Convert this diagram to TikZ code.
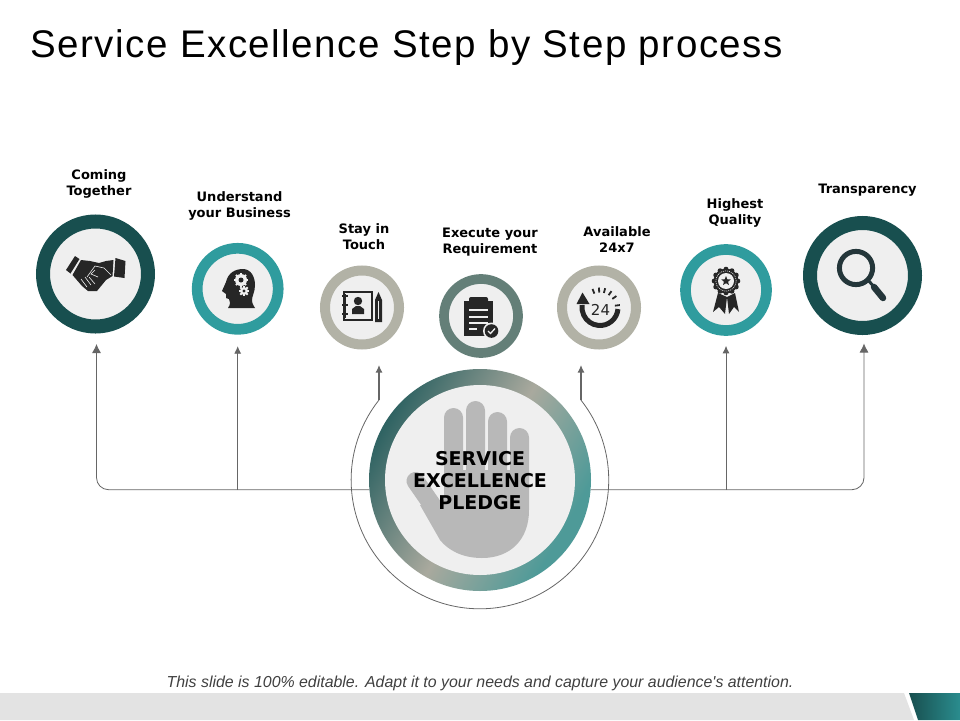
\documentclass[tikz,border=0pt]{standalone}
\usepackage{fontspec}
\setmainfont{DejaVu Sans}
\newfontfamily\slidefont{Liberation Sans}
\newfontfamily\headfont[LetterSpace=4]{Liberation Sans}
\usetikzlibrary{arrows.meta,shapes.geometric,positioning}
\definecolor{ringdark}{HTML}{184F4F}
\definecolor{ringteal}{HTML}{2F9C9E}
\definecolor{ringstone}{HTML}{B2B2A6}
\definecolor{ringsage}{HTML}{647F78}
\definecolor{fadeteal}{HTML}{4E9A98}
\definecolor{fadedark}{HTML}{2A6060}
\definecolor{iconbg}{HTML}{EFEFEF}
\definecolor{iconink}{HTML}{262626}
\definecolor{lensink}{HTML}{24363A}
\definecolor{handgrey}{HTML}{B8B8B8}
\definecolor{linegrey}{HTML}{666666}
\definecolor{bandgrey}{HTML}{E3E3E3}
\pgfdeclareverticalshading{pledgefade}{100bp}{color(0bp)=(fadeteal); color(28bp)=(fadeteal); color(50bp)=(ringstone!95!black); color(76bp)=(fadedark); color(100bp)=(fadedark)}
\tikzstyle{ringlarge} = [circle, line width=14pt, minimum size=105pt, fill=iconbg, inner sep=0pt]
\tikzstyle{ringmid} = [circle, line width=10.7pt, minimum size=81pt, fill=iconbg, inner sep=0pt]
\tikzstyle{ringsmall} = [circle, line width=9.7pt, minimum size=74pt, fill=iconbg, inner sep=0pt]
\tikzstyle{caption} = [font=\bfseries\fontsize{13}{16}\selectfont, align=center, text=black]
\tikzstyle{line} = [draw=linegrey, line width=0.8pt]
\tikzstyle{tipbig} = [-{Latex[length=9pt,width=9pt]}, line width=0.8pt, draw=linegrey]
\tikzstyle{tipsmall} = [-{Latex[length=7.5pt,width=7pt]}, line width=0.8pt, draw=linegrey]
\tikzstyle{icon} = [fill=iconink, draw=none]
\tikzstyle{slit} = [draw=iconbg, line width=0.6pt]
\begin{document}
\begin{tikzpicture}[x=1pt, y=-1pt]
	\useasboundingbox (0,0) rectangle (960,720);
	% Band and texts
	\fill [bandgrey] (0,693) -- (904,693) -- (914,720) -- (0,720) -- cycle;
	\shade [left color=ringdark, right color=ringteal!90!black] (909,693) -- (960,693) -- (960,720) -- (918,720) -- cycle;
	\node [anchor=west, inner sep=0pt, font=\headfont\fontsize{38.5}{44}\selectfont] (title) at (30,48) {Service Excellence Step by Step process};
	\node [font=\slidefont\itshape\fontsize{15.9}{20}\selectfont, text=black!75] (note) at (480,683) {This slide is 100\% editable. Adapt it to your needs and capture your audience's attention.};

	% Place nodes
	\node [ringlarge, draw=ringdark] (ring1) at (95.5,274) {};
	\node [ringmid, draw=ringteal, right of=ring1, node distance=142.2pt, yshift=-14.8pt] (ring2) {};
	\node [ringsmall, draw=ringstone, right of=ring2, node distance=124.3pt, yshift=-18.7pt, line width=10pt] (ring3) {};
	\node [ringsmall, draw=ringsage, right of=ring3, node distance=119pt, yshift=-8.5pt] (ring4) {};
	\node [ringsmall, draw=ringstone, right of=ring4, node distance=118pt, yshift=8.5pt, line width=10pt] (ring5) {};
	\node [ringmid, draw=ringteal, right of=ring5, node distance=127pt, yshift=17.5pt] (ring6) {};
	\node [ringlarge, draw=ringdark, right of=ring6, node distance=136.5pt, yshift=14.5pt] (ring7) {};

	\node [caption, above of=ring1, node distance=90.5pt, xshift=3.5pt] (cap1) {Coming\\Together};
	\node [caption, above of=ring2, node distance=82.8pt, xshift=1.8pt] (cap2) {Understand\\your Business};
	\node [caption, above of=ring3, node distance=70.5pt, xshift=2pt] (cap3) {Stay in\\Touch};
	\node [caption, above of=ring4, node distance=73.5pt, xshift=9pt] (cap4) {Execute your\\Requirement};
	\node [caption, above of=ring5, node distance=67.5pt, xshift=18pt] (cap5) {Available\\24x7};
	\node [caption, above of=ring6, node distance=77pt, xshift=9pt] (cap6) {Highest\\Quality};
	\node [caption, above of=ring7, node distance=85pt, xshift=5pt] (cap7) {Transparency};

	% Centre
	\node [circle, minimum size=222pt, inner sep=0pt, shading=pledgefade, shading angle=60] (hub) at (480,480) {};
	\node [circle, minimum size=190pt, inner sep=0pt, fill=iconbg] (hubdisc) at (hub.center) {};
	\foreach \fx/\fy in {444/408,466/401,488/412,510/428}
		\fill [handgrey, rounded corners=9.5pt] (\fx,\fy) rectangle (\fx+19,490);
	\fill [handgrey] (444,470) -- (529,470) -- (529,510) .. controls (529,540) and (510,558) .. (482,558) .. controls (462,558) and (448,550) .. (440,540) -- (420,505) -- (444,500) -- cycle;
	\draw [handgrey, line width=18pt, line cap=round] (415.5,481) -- (444,522);
	\node [font=\bfseries\fontsize{19}{22}\selectfont, align=center, text=black] (hubtext) at (480,481) {SERVICE\\EXCELLENCE\\PLEDGE};

	% Connectors
	\coordinate (stemleft) at (379,400);
	\coordinate (stemright) at (581,400);
	\coordinate (tipleft) at (379,365);
	\coordinate (tipright) at (581,365);
	\coordinate (foot1) at ([xshift=1pt]ring1.south);
	\coordinate (foot7) at ([xshift=1.5pt]ring7.south);
	\draw [tipbig, rounded corners=12pt, shorten >=10.5pt] (hub.185) -| (foot1);
	\draw [tipbig, rounded corners=12pt, shorten >=8.5pt] (hub.-5) -| (foot7);
	\draw [tipsmall, shorten >=11.5pt] (ring2.south |- hub.185) -- (ring2.south);
	\draw [tipsmall, shorten >=10pt] (ring6.south |- hub.-5) -- (ring6.south);
	\draw [tipsmall, line width=1.3pt] (stemleft) -- (tipleft);
	\draw [tipsmall, line width=1.3pt] (stemright) -- (tipright);
	\path [line] (stemleft) arc [start angle=141.6, end angle=398.4, radius=128.8pt];

	% Handshake
	\fill [icon] (66,270) -- (75,256) -- (79.5,259) -- (70.5,273.5) -- cycle;
	\fill [icon] (115.5,258) -- (125.5,261) -- (124.5,278) -- (114,276.5) -- cycle;
	\fill [icon] (81,260) -- (90,261) -- (99,263) -- (106,261) -- (113.5,260) -- (112.5,276) -- (106,280) -- (97,291) -- (88,291) -- (82,286) -- (72.5,275) -- cycle;
	\draw [slit] (87,277) -- (95,266) -- (104,268) -- (111,275);
	\draw [slit] (95,270) -- (91,274) -- (98,277);
	\draw [slit] (81,279) -- (87,287);
	\draw [slit] (85,277) -- (91,285);
	\draw [slit] (89,277) -- (95,284);

	% Head
	\fill [icon] (222,291) -- (226,282) .. controls (228,273) and (235,269) .. (243,269) .. controls (251,269) and (255,277) .. (255,285) .. controls (255,292) and (252,296) .. (252,300) .. controls (252,304) and (254,306) .. (255,308) -- (228,308) .. controls (231,304) and (230,301) .. (229,299) -- (226,298) -- (226,294) -- cycle;
	\foreach \gx/\gy/\gr/\gh in {241/280/6/2.5, 244/291/4/1.6} {
		\fill [iconbg] (\gx,\gy) circle (\gr pt);
		\foreach \a in {0,45,...,315}
			\draw [iconbg, line width=1.8pt] ([shift={(\a:\gr-1)}]\gx,\gy) -- ([shift={(\a:\gr+1.2)}]\gx,\gy);
		\fill [icon] (\gx,\gy) circle (\gh pt);
	}

	% Contact book
	\draw [iconink, line width=1.6pt] (344,292) rectangle (372,320);
	\draw [iconink, line width=1.4pt] (345,294) -- (345,318);
	\foreach \ty in {296,305,314}
		\draw [iconink, line width=1.4pt] (342,\ty) -- (348,\ty);
	\fill [icon] (358,301) circle (4.2pt);
	\fill [icon] (352,314) -- (352,309) -- (356,306) -- (360,306) -- (364,309) -- (364,314) -- cycle;
	\fill [icon] (375,300) -- (378.5,292) -- (382,300) -- (382,322) -- (375,322) -- cycle;
	\draw [slit, line width=0.6pt] (378.5,301) -- (378.5,319);

	% Clipboard
	\fill [icon] (464,301) rectangle (493,336);
	\fill [icon, rounded corners=2pt] (469,297) rectangle (488,304);
	\foreach \ly in {310,317,323}
		\draw [slit, line width=1.1pt] (469,\ly) -- (488,\ly);
	\draw [slit, line width=1.1pt] (469,329) -- (477,329);
	\fill [iconbg] (491.5,331) circle (8.5pt);
	\fill [icon] (491.5,331) circle (6.8pt);
	\draw [iconbg, line width=1.3pt] (488,331) -- (490.5,333.5) -- (495,328.5);

	% Clock
	\draw [iconink, line width=5pt] (600,307.5) ++(5:18) arc [start angle=-5, end angle=-188, radius=18pt];
	\fill [icon] (576.5,304) -- (582.5,292.5) -- (589.5,304) -- cycle;
	\foreach \a in {-112,-93,-75,-55,-35,-7}
		\draw [iconink, line width=1.8pt] ([shift={(\a:15)}]600,307.5) -- ([shift={(\a:20)}]600,307.5);
	\node [inner sep=0pt, font=\fontsize{15}{15}\selectfont, text=iconink] (hours) at (600.5,309.5) {24};

	% Rosette
	\fill [icon] (718,293) -- (727,297) -- (725,314) -- (719,307) -- (713,312) -- cycle;
	\fill [icon] (735,293) -- (727,297) -- (729,314) -- (734,307) -- (739,312) -- cycle;
	\foreach \a in {0,30,...,330}
		\fill [icon] ([shift={(\a:11.8)}]726,281) circle (2.5pt);
	\fill [icon] (726,281) circle (12.5pt);
	\draw [iconbg, line width=0.6pt, dash pattern=on 1pt off 1pt] (726,281) circle (10.2pt);
	\fill [iconbg] (726,281) circle (8pt);
	\node [star, star points=5, star point ratio=2.3, fill=iconink, minimum size=10pt, inner sep=0pt] (badge) at (726,281) {};

	% Magnifier
	\draw [lensink, line width=5pt] (856,268) circle (16.6pt);
	\draw [lensink, line width=3pt] (868,280) -- (875,288);
	\draw [lensink, line width=6.5pt, line cap=round] (874,287) -- (883,298);
\end{tikzpicture}
\end{document}
